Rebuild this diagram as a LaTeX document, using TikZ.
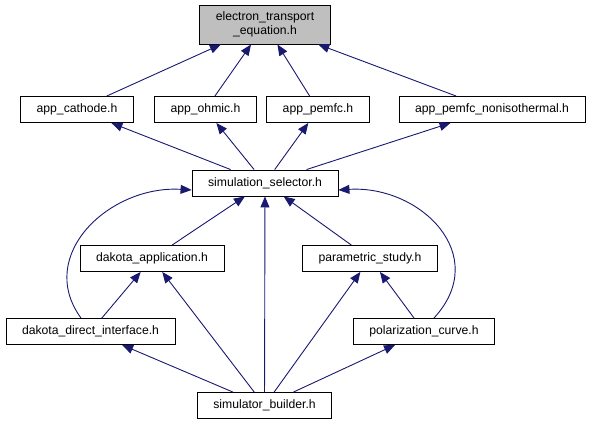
\documentclass[tikz,border=0pt]{standalone}
\usepackage{fontspec}
\setmainfont{Liberation Sans}
\usetikzlibrary{arrows.meta}
\definecolor{midnight}{RGB}{25,25,112}
\begin{document}
\begin{tikzpicture}[x=1pt, y=-1pt,
  hfile/.style={draw, line width=0.9pt, inner xsep=16pt, inner ysep=0pt, minimum height=26pt,
    font=\fontsize{12.2}{14}\selectfont, align=center},
  incl/.style={draw=midnight, line width=0.9pt, -{Triangle[length=11pt, width=9pt, fill=midnight]}}]
\useasboundingbox (0,0) rectangle (593,427);
\node [hfile, fill=black!25, minimum height=39pt] (ete) at (265, 24.5) {electron\_transport\\\_equation.h};
\node [hfile] (cathode) at (77, 109.5) {app\_cathode.h};
\node [hfile] (ohmic) at (205.5, 109.5) {app\_ohmic.h};
\node [hfile] (pemfc) at (318, 109.5) {app\_pemfc.h};
\node [hfile] (noniso) at (492, 109.5) {app\_pemfc\_nonisothermal.h};
\node [hfile] (sel) at (265, 183) {simulation\_selector.h};
\node [hfile] (dapp) at (152, 258.5) {dakota\_application.h};
\node [hfile] (pstudy) at (370, 258.5) {parametric\_study.h};
\node [hfile] (ddi) at (90.5, 331.5) {dakota\_direct\_interface.h};
\node [hfile] (polar) at (424, 331.5) {polarization\_curve.h};
\node [hfile] (builder) at (264.5, 405.5) {simulator\_builder.h};

\draw [incl] (cathode) -- (ete);
\draw [incl] (ohmic) -- (ete);
\draw [incl] (pemfc) -- (ete);
\draw [incl] (noniso) -- (ete);
\draw [incl] (sel) -- (cathode);
\draw [incl] (sel) -- (ohmic);
\draw [incl] (sel) -- (pemfc);
\draw [incl] (sel) -- (noniso);
\draw [incl] (dapp) -- (sel);
\draw [incl] (pstudy) -- (sel);
\draw [incl] ([xshift=-9.5pt]ddi.north) .. controls (35, 255) and (110, 185) .. ([yshift=-7pt]sel.west);
\draw [incl] ([xshift=10pt]polar.north) .. controls (492, 255) and (420, 185) .. ([yshift=-7pt]sel.east);
\draw [incl] (ddi) -- (dapp);
\draw [incl] (polar) -- (pstudy);
\draw [incl] (builder) -- (sel);
\draw [incl] (builder) -- (dapp);
\draw [incl] (builder) -- (pstudy);
\draw [incl] (builder) -- (ddi);
\draw [incl] (builder) -- (polar);

\end{tikzpicture}
\end{document}
